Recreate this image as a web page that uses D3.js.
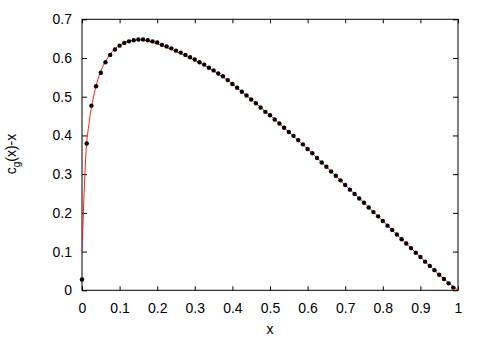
<!DOCTYPE html>
<html>
<head>
<meta charset="utf-8">
<script src="https://cdn.jsdelivr.net/npm/d3@7"></script>
<style>
  body { margin: 0; background: #fff; }
  text { font-family: "Liberation Sans", Arial, sans-serif; }
</style>
</head>
<body>
<div id="chart"></div>
<script>
// tick values and labels
let xTicks = [0, 0.1, 0.2, 0.3, 0.4, 0.5, 0.6, 0.7, 0.8, 0.9, 1];
let xTickLabels = ["0", "0.1", "0.2", "0.3", "0.4", "0.5", "0.6", "0.7", "0.8", "0.9", "1"];
let yTicks = [0, 0.1, 0.2, 0.3, 0.4, 0.5, 0.6, 0.7];
let yTickLabels = ["0", "0.1", "0.2", "0.3", "0.4", "0.5", "0.6", "0.7"];

// measured points (black dots)
let pointX = [
  0, 0.0125, 0.025, 0.0375, 0.05, 0.0625, 0.075, 0.0875, 0.1, 0.1125,
  0.125, 0.1375, 0.15, 0.1625, 0.175, 0.1875, 0.2, 0.2125, 0.225, 0.2375,
  0.25, 0.2625, 0.275, 0.2875, 0.3, 0.3125, 0.325, 0.3375, 0.35, 0.3625,
  0.375, 0.3875, 0.4, 0.4125, 0.425, 0.4375, 0.45, 0.4625, 0.475, 0.4875,
  0.5, 0.5125, 0.525, 0.5375, 0.55, 0.5625, 0.575, 0.5875, 0.6, 0.6125,
  0.625, 0.6375, 0.65, 0.6625, 0.675, 0.6875, 0.7, 0.7125, 0.725, 0.7375,
  0.75, 0.7625, 0.775, 0.7875, 0.8, 0.8125, 0.825, 0.8375, 0.85, 0.8625,
  0.875, 0.8875, 0.9, 0.9125, 0.925, 0.9375, 0.95, 0.9625, 0.975, 0.9875
];
let pointY = [
  0.028, 0.379, 0.477, 0.527, 0.562, 0.589, 0.608, 0.622, 0.632, 0.639,
  0.643, 0.646, 0.648, 0.648, 0.646, 0.643, 0.640, 0.634, 0.630, 0.625,
  0.619, 0.614, 0.608, 0.602, 0.596, 0.589, 0.583, 0.575, 0.568, 0.560,
  0.553, 0.543, 0.533, 0.523, 0.513, 0.503, 0.493, 0.483, 0.472, 0.461,
  0.452, 0.441, 0.431, 0.420, 0.409, 0.399, 0.388, 0.377, 0.365, 0.354,
  0.342, 0.330, 0.319, 0.307, 0.296, 0.284, 0.272, 0.260, 0.249, 0.237,
  0.226, 0.214, 0.202, 0.191, 0.179, 0.167, 0.156, 0.144, 0.132, 0.121,
  0.109, 0.097, 0.086, 0.074, 0.063, 0.052, 0.040, 0.029, 0.018, 0.007
];

// theoretical curve (red line)
let curveX = [
  0, 0.01, 0.02, 0.03, 0.04, 0.05, 0.06, 0.07, 0.08, 0.09,
  0.1, 0.11, 0.12, 0.13, 0.14, 0.15, 0.16, 0.17, 0.18, 0.19,
  0.2, 0.225, 0.25, 0.275, 0.3, 0.35, 0.4, 0.45, 0.5, 0.55,
  0.6, 0.65, 0.7, 0.75, 0.8, 0.85, 0.9, 0.95, 1
];
let curveY = [
  0.100, 0.345, 0.440, 0.497, 0.537, 0.566, 0.587, 0.603, 0.616, 0.626,
  0.633, 0.638, 0.642, 0.645, 0.646, 0.647, 0.646, 0.645, 0.642, 0.639,
  0.637, 0.627, 0.617, 0.606, 0.594, 0.567, 0.533, 0.493, 0.452, 0.409,
  0.365, 0.319, 0.272, 0.226, 0.179, 0.132, 0.086, 0.040, 0
];

let svgWidth = 485;
let svgHeight = 339;
let margin = { top: 19.3, right: 27, bottom: 48.7, left: 82 };
let width = svgWidth - margin.left - margin.right;
let height = svgHeight - margin.top - margin.bottom;

let svg = d3.select("#chart")
  .append("svg")
  .attr("width", svgWidth)
  .attr("height", svgHeight);

let g = svg.append("g")
  .attr("transform", `translate(${margin.left}, ${margin.top})`);

let x = d3.scaleLinear().domain([0, 1]).range([0, width]);
let y = d3.scaleLinear().domain([0, 0.7]).range([height, 0]);

// axes: ticks point inward, mirrored on top and right
let bottomAxis = d3.axisBottom(x)
  .tickValues(xTicks)
  .tickFormat((d, i) => xTickLabels[i])
  .tickSize(-4)
  .tickPadding(13);
let leftAxis = d3.axisLeft(y)
  .tickValues(yTicks)
  .tickFormat((d, i) => yTickLabels[i])
  .tickSize(-5)
  .tickPadding(10);
let topAxis = d3.axisTop(x).tickValues(xTicks).tickFormat("").tickSize(-4);
let rightAxis = d3.axisRight(y).tickValues(yTicks).tickFormat("").tickSize(-5);

function styleAxis(sel) {
  sel.select(".domain").remove();
  sel.selectAll("line").attr("stroke", "#000").attr("stroke-width", 1);
  sel.selectAll("text")
    .attr("fill", "#000")
    .style("font-size", "14px")
    .style("font-family", "'Liberation Sans', Arial, sans-serif");
}

g.append("g").attr("transform", `translate(0, ${height})`).call(bottomAxis).call(styleAxis);
g.append("g").call(leftAxis).call(styleAxis);
g.append("g").call(topAxis).call(styleAxis);
g.append("g").attr("transform", `translate(${width}, 0)`).call(rightAxis).call(styleAxis);

// frame
g.append("rect")
  .attr("x", 0)
  .attr("y", 0)
  .attr("width", width)
  .attr("height", height)
  .attr("fill", "none")
  .attr("stroke", "#000")
  .attr("stroke-width", 1);

// clip for the line
svg.append("defs").append("clipPath")
  .attr("id", "plotClip")
  .append("rect")
  .attr("width", width)
  .attr("height", height);

let curve = curveX.map((d, i) => [d, curveY[i]]);
let points = pointX.map((d, i) => [d, pointY[i]]);

let line = d3.line()
  .x(d => x(d[0]))
  .y(d => y(d[1]))
  .curve(d3.curveMonotoneX);

g.append("path")
  .datum(curve)
  .attr("clip-path", "url(#plotClip)")
  .attr("d", line)
  .attr("fill", "none")
  .attr("stroke", "#ff0000")
  .attr("stroke-width", 0.9);

g.append("g")
  .selectAll("circle")
  .data(points)
  .enter()
  .append("circle")
  .attr("cx", d => x(d[0]))
  .attr("cy", d => y(d[1]))
  .attr("r", 2.2)
  .attr("fill", "#000");

// axis titles
svg.append("text")
  .attr("x", margin.left + width / 2)
  .attr("y", 334)
  .attr("text-anchor", "middle")
  .style("font-size", "14px")
  .text("x");

let yTitle = svg.append("text")
  .attr("transform", "translate(16, 154) rotate(-90)")
  .attr("text-anchor", "middle")
  .style("font-size", "14px");
yTitle.append("tspan").text("c");
yTitle.append("tspan").attr("dy", 4).style("font-size", "10px").text("g");
yTitle.append("tspan").attr("dy", -4).text("(x)-x");
</script>
</body>
</html>
